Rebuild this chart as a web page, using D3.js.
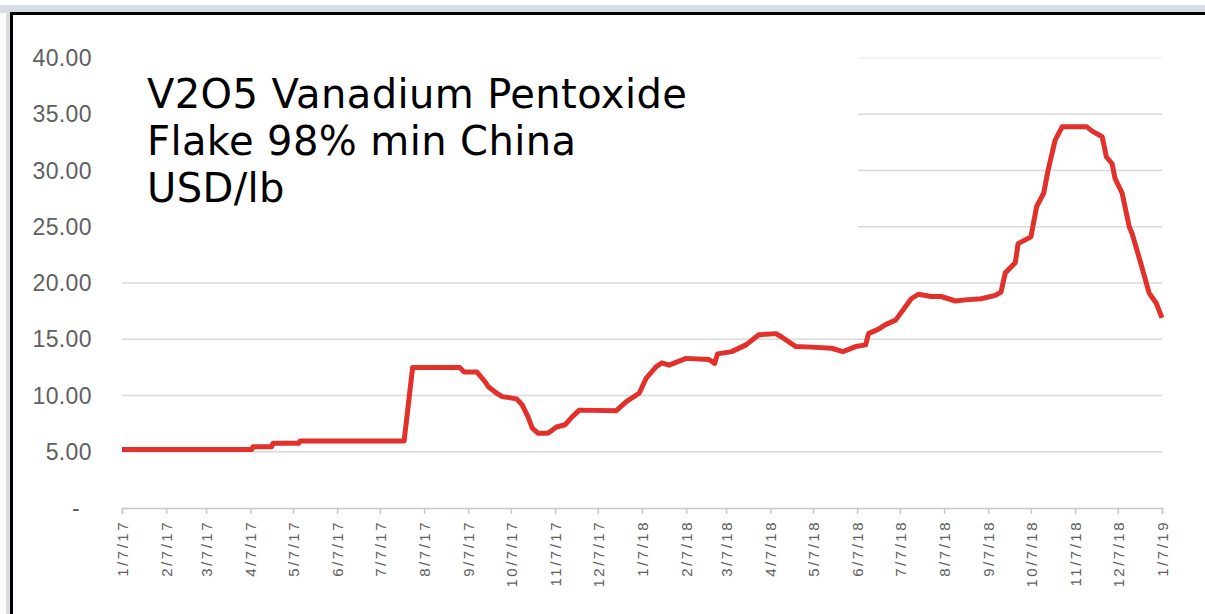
<!DOCTYPE html>
<html>
<head>
<title>V2O5 price</title>
<script src="https://d3js.org/d3.v7.min.js"></script>
<style>
  body { margin: 0; background: #fff; }
</style>
</head>
<body>
<script>
// price series (USD/lb)
var dates = [
  "2017-01-07","2017-04-08","2017-04-09","2017-04-22","2017-04-23","2017-05-11","2017-05-12",
  "2017-07-24","2017-07-26","2017-07-30","2017-09-01","2017-09-04","2017-09-13","2017-09-19",
  "2017-09-21","2017-09-27","2017-10-01","2017-10-11","2017-10-15","2017-10-19","2017-10-22",
  "2017-10-26","2017-11-02","2017-11-08","2017-11-14","2017-11-19","2017-11-24","2017-12-20",
  "2017-12-27","2018-01-05","2018-01-10","2018-01-17","2018-01-21","2018-01-26","2018-02-07",
  "2018-02-23","2018-02-27","2018-03-01","2018-03-11","2018-03-21","2018-03-30","2018-04-11",
  "2018-04-15","2018-04-25","2018-05-06","2018-05-20","2018-05-28","2018-06-06","2018-06-13",
  "2018-06-15","2018-06-22","2018-06-27","2018-07-04","2018-07-15","2018-07-20","2018-07-29",
  "2018-08-05","2018-08-15","2018-08-22","2018-09-02","2018-09-12","2018-09-16","2018-09-19",
  "2018-09-26","2018-09-28","2018-10-07","2018-10-11","2018-10-16","2018-10-19","2018-10-24",
  "2018-10-29","2018-11-15","2018-11-19","2018-11-26","2018-11-29","2018-12-03","2018-12-05",
  "2018-12-10","2018-12-15","2018-12-17","2018-12-23","2018-12-25","2018-12-29","2019-01-03",
  "2019-01-07"
];
var prices = [
  5.2, 5.2, 5.45, 5.45, 5.75, 5.75, 5.95,
  5.95, 8.1, 12.5, 12.5, 12.1, 12.1, 11.2,
  10.8, 10.2, 9.9, 9.7, 9.15, 8.1, 7.1,
  6.65, 6.65, 7.2, 7.4, 8.1, 8.7, 8.65,
  9.45, 10.2, 11.55, 12.56, 12.9, 12.7, 13.3,
  13.2, 12.85, 13.7, 13.9, 14.5, 15.4, 15.5,
  15.2, 14.35, 14.3, 14.2, 13.9, 14.35, 14.5,
  15.5, 15.9, 16.3, 16.7, 18.6, 19.0, 18.8,
  18.8, 18.4, 18.5, 18.6, 18.9, 19.2, 20.9,
  21.8, 23.5, 24.1, 26.8, 28.0, 30.0, 32.7,
  33.9, 33.9, 33.5, 33.0, 31.2, 30.6, 29.3,
  28.0, 25.0, 24.4, 21.8, 20.9, 19.1, 18.2,
  16.9
];
var yTicks = [0, 5, 10, 15, 20, 25, 30, 35, 40];
var xTickDates = [
  "2017-01-07","2017-02-07","2017-03-07","2017-04-07","2017-05-07","2017-06-07","2017-07-07",
  "2017-08-07","2017-09-07","2017-10-07","2017-11-07","2017-12-07","2018-01-07","2018-02-07",
  "2018-03-07","2018-04-07","2018-05-07","2018-06-07","2018-07-07","2018-08-07","2018-09-07",
  "2018-10-07","2018-11-07","2018-12-07","2019-01-07"
];
var titleLines = ["V2O5 Vanadium Pentoxide", "Flake 98% min China", "USD/lb"];

var W = 1205, H = 614;
var parse = d3.timeParse("%Y-%m-%d");
var data = dates.map(function(d, i) { return { date: parse(d), value: prices[i] }; });

var svg = d3.select("body").append("svg")
    .attr("width", W)
    .attr("height", H);

// frame
svg.append("rect").attr("x", 0).attr("y", 5).attr("width", W).attr("height", 8).attr("fill", "#d6dde4");
svg.append("rect").attr("x", 6).attr("y", 5).attr("width", 5).attr("height", H).attr("fill", "#d6dde4");
svg.append("rect").attr("x", 10).attr("y", 12).attr("width", W - 10).attr("height", 3).attr("fill", "#000");
svg.append("rect").attr("x", 10).attr("y", 12).attr("width", 3).attr("height", H - 12).attr("fill", "#000");

var x = d3.scaleTime()
    .domain([parse(xTickDates[0]), parse(xTickDates[xTickDates.length - 1])])
    .range([122, 1162]);
var y = d3.scaleLinear().domain([0, 40]).range([508, 58]);

// gridlines
svg.append("g").selectAll("line")
    .data(yTicks.filter(function(v) { return v > 0; }))
    .enter().append("line")
    .attr("x1", 122).attr("x2", 1162)
    .attr("y1", function(d) { return y(d); })
    .attr("y2", function(d) { return y(d); })
    .attr("stroke", function(d) { return d == 40 ? "#f1f1f1" : "#d9d9d9"; })
    .attr("stroke-width", 1.5);

// white patch behind the title (gridlines are wiped out there)
svg.append("rect").attr("x", 118).attr("y", 48).attr("width", 740).attr("height", 192).attr("fill", "#fff");

// y labels
svg.append("g").selectAll("text")
    .data(yTicks)
    .enter().append("text")
    .attr("x", function(d) { return d == 0 ? 80 : 92; })
    .attr("y", function(d) { return y(d); })
    .attr("dy", "0.35em")
    .attr("text-anchor", "end")
    .attr("fill", "#606060")
    .style("font-family", "Liberation Sans, Arial, sans-serif")
    .style("font-size", "23px")
    .style("letter-spacing", "0.4px")
    .text(function(d) { return d == 0 ? "-" : d3.format(".2f")(d); });

// x axis
var xAxis = d3.axisBottom(x)
    .tickValues(xTickDates.map(parse))
    .tickSize(6)
    .tickFormat(d3.timeFormat("%-m/%-d/%y"));
var gx = svg.append("g").attr("transform", "translate(0,508)").call(xAxis);
gx.select(".domain").attr("stroke", "#c8c8c8").attr("stroke-width", 1.5);
gx.selectAll(".tick line").attr("stroke", "#c8c8c8").attr("stroke-width", 1.5);
gx.selectAll(".tick text")
    .attr("fill", "#606060")
    .style("font-family", "Liberation Sans, Arial, sans-serif")
    .style("font-size", "15px")
    .style("letter-spacing", "2.5px")
    .attr("text-anchor", "end")
    .attr("transform", "rotate(-90)")
    .attr("x", -12)
    .attr("y", 0)
    .attr("dy", "0.35em");

// price line
var line = d3.line()
    .x(function(d) { return x(d.date); })
    .y(function(d) { return y(d.value); });
svg.append("path")
    .datum(data)
    .attr("fill", "none")
    .attr("stroke", "#e2302a")
    .attr("stroke-width", 5)
    .attr("stroke-linejoin", "round")
    .attr("d", line);

// title
svg.append("g").selectAll("text")
    .data(titleLines)
    .enter().append("text")
    .attr("x", 147)
    .attr("y", function(d, i) { return 108 + i * 47; })
    .attr("fill", "#000")
    .style("font-family", "DejaVu Sans, sans-serif")
    .style("font-size", "40px")
    .style("letter-spacing", "0.4px")
    .text(function(d) { return d; });
</script>
</body>
</html>
